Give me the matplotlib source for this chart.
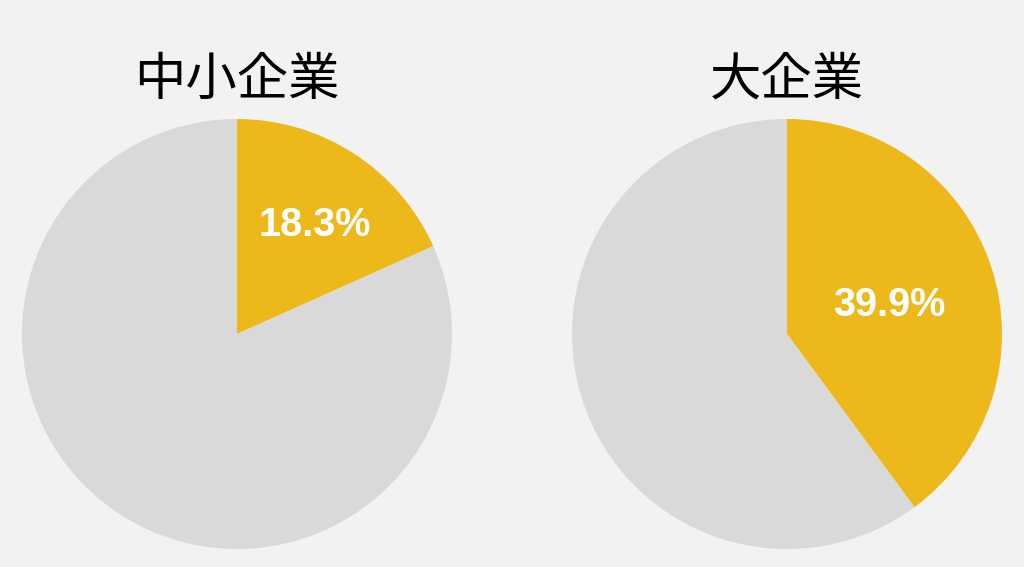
import matplotlib
matplotlib.use("Agg")
import matplotlib.pyplot as plt
import matplotlib.transforms as mtransforms

titles = ["中小企業", "大企業"]
shares = [18.3, 39.9]
pct_dist = [0.63, 0.50]
gold = "#EDB81A"
gray = "#D9D9D9"
bg = "#F2F2F2"

W, H = 1024, 567
fig = plt.figure(figsize=(W / 100, H / 100), dpi=100, facecolor=bg)

centers_x = [237, 787]
label_shift = [(4, -5), (0, -5)]  # pixel nudges for label placement
r = 215
cy = 334
for i, (t, s) in enumerate(zip(titles, shares)):
    ax = fig.add_axes([(centers_x[i] - r) / W, (H - cy - r) / H, 2 * r / W, 2 * r / H])
    ax.set_facecolor(bg)
    wedges, texts, autotexts = ax.pie(
        [s, 100 - s], colors=[gold, gray], startangle=90, counterclock=False,
        autopct="%.1f%%", pctdistance=pct_dist[i], radius=1,
        wedgeprops=dict(linewidth=0),
        textprops=dict(color="white", fontsize=28.5, fontweight="bold",
                       family=["Liberation Sans", "DejaVu Sans"]))
    autotexts[1].set_visible(False)
    dx, dy = label_shift[i]
    autotexts[0].set_transform(ax.transData + mtransforms.ScaledTranslation(dx / 100, dy / 100, fig.dpi_scale_trans))
    ax.set_xlim(-1, 1)
    ax.set_ylim(-1, 1)
    ax.set_aspect("equal")
    ax.axis("off")
    fig.text(centers_x[i] / W, 1 - 80 / H, t, ha="center", va="center",
             fontsize=37, color="black",
             family=["Noto Sans CJK JP", "DejaVu Sans"])

fig.savefig("out.png", dpi=100, facecolor=bg)
